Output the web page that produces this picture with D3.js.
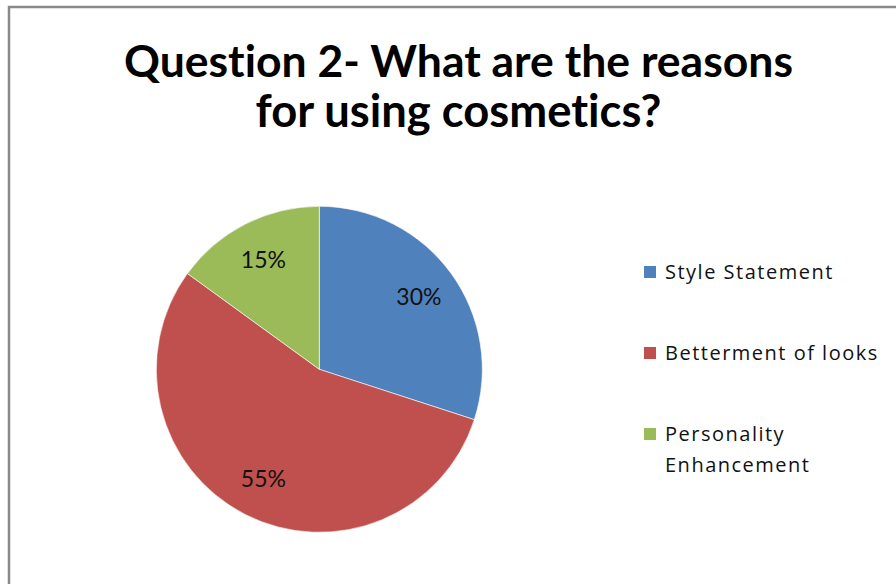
<!DOCTYPE html>
<html>
<head>
<meta charset="utf-8">
<script src="https://cdn.jsdelivr.net/npm/d3@7"></script>
<style>
  html, body { margin: 0; padding: 0; background: #fff; }
  svg { display: block; }
  text { font-variant-ligatures: none; font-feature-settings: "liga" 0; }
</style>
</head>
<body>
<svg id="chart" width="896" height="584"></svg>
<script>
// Survey answers for question 2
const categories = ["Style Statement", "Betterment of looks", "Personality Enhancement"];
const values = [30, 55, 15];
const legendLines = [["Style Statement"], ["Betterment of looks"], ["Personality", "Enhancement"]];
const colors = ["#4F81BD", "#C0504D", "#9BBB59"];
const titleLines = ["Question 2- What are the reasons", "for using cosmetics?"];

const W = 896, H = 584;
const svg = d3.select("#chart");
const titleFont = "Lato, 'Open Sans', sans-serif";
const bodyFont = "'Open Sans', Lato, sans-serif";

// chart frame (only top and left edges fall inside the view)
svg.append("rect")
  .attr("x", 9).attr("y", 7)
  .attr("width", W + 20).attr("height", H + 20)
  .attr("fill", "#fff")
  .attr("stroke", "#8a8a8a")
  .attr("stroke-width", 2.5);

// scale a text element's font size so its rendered width equals target
function fitWidth(sel, target) {
  const node = sel.node();
  const fs = parseFloat(sel.attr("font-size"));
  const w = node.getComputedTextLength();
  sel.attr("font-size", fs * target / w);
}

// title
const titleCx = 458.5;
const titleBase = [77, 127];
const titleWidths = [669, 406];
titleLines.forEach((t, i) => {
  const tx = svg.append("text")
    .attr("x", titleCx).attr("y", titleBase[i])
    .attr("text-anchor", "middle")
    .attr("font-family", titleFont)
    .attr("font-weight", "bold")
    .attr("font-size", 40)
    .attr("fill", "#000")
    .text(t);
  fitWidth(tx, titleWidths[i]);
});

// pie
const cx = 319.3, cy = 369.3, R = 163;
const pie = d3.pie().sort(null).value(d => d)(values);
const arc = d3.arc().innerRadius(0).outerRadius(R);
const labelArc = d3.arc().innerRadius(R * 0.755).outerRadius(R * 0.755);
const color = d3.scaleOrdinal().domain(categories).range(colors);

const g = svg.append("g").attr("transform", `translate(${cx},${cy})`);
g.selectAll("path.slice")
  .data(pie)
  .join("path")
  .attr("class", "slice")
  .attr("d", arc)
  .attr("fill", (d, i) => color(categories[i]))
  .attr("stroke", "#fff")
  .attr("stroke-width", 0.6);

g.selectAll("text.pct")
  .data(pie)
  .join("text")
  .attr("class", "pct")
  .attr("transform", d => `translate(${labelArc.centroid(d)})`)
  .attr("text-anchor", "middle")
  .attr("dy", "0.36em")
  .attr("font-family", titleFont)
  .attr("font-size", 23)
  .attr("fill", "#111")
  .text(d => d3.format(".0%")(d.value / d3.sum(values)));

// legend
const legX = 644, legTextX = 665;
const legY = d3.scalePoint().domain(categories).range([272, 434]);
const lineH = 31;
categories.forEach((c, i) => {
  const y = legY(c);
  svg.append("rect")
    .attr("x", legX).attr("y", y - 6)
    .attr("width", 12).attr("height", 12)
    .attr("fill", color(c));
  legendLines[i].forEach((ln, j) => {
    svg.append("text")
      .attr("x", legTextX).attr("y", y + j * lineH)
      .attr("dy", "0.36em")
      .attr("font-family", bodyFont)
      .attr("font-size", 20)
      .attr("letter-spacing", 1.5)
      .attr("fill", "#111")
      .text(ln);
  });
});
</script>
</body>
</html>
